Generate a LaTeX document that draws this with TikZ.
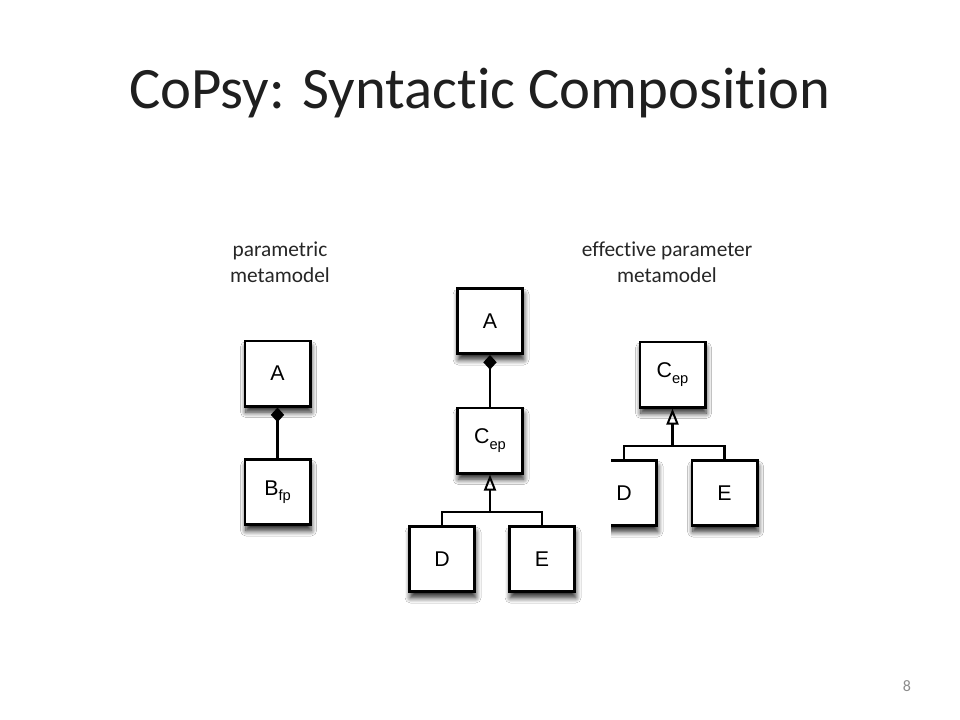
\documentclass[tikz,border=0pt]{standalone}
\usepackage{fontspec}
\setmainfont[Ligatures={NoCommon}]{Carlito}
\newfontfamily\boxfont{Liberation Sans}
\usetikzlibrary{arrows.meta,shadows.blur}
\tikzset{
  umlbox/.style={draw=black, line width=2pt, fill=white, minimum size=49pt, inner sep=0pt,
    font=\boxfont\fontsize{16}{18}\selectfont,
    blur shadow={shadow xshift=0.8pt, shadow yshift=-4.5pt, shadow blur radius=4pt, shadow opacity=85, shadow blur steps=8}},
  compo/.style={line width=1.6pt, {Diamond[length=11pt,width=10pt]}-},
  gener/.style={line width=1.6pt, -{Triangle[open,length=12pt,width=9pt,line width=1.5pt]}},
  tree/.style={line width=1.6pt},
  lbl/.style={align=center, text=black!85, font=\fontsize{16}{19.5}\selectfont},
}
\newcommand{\subtxt}[1]{\raisebox{-0.5ex}{\fontsize{11}{12}\selectfont #1}}
\begin{document}
\begin{tikzpicture}[x=0.75pt,y=-0.75pt]
\useasboundingbox (0,0) rectangle (960,720);
\fill[white] (0,0) rectangle (960,720);
% title
\node[anchor=base, font=\fontsize{44}{52}\selectfont, text=black!88] (title) at (480,109) {CoPsy: Syntactic Composition};
% labels
\node[lbl] (lblL) at (280,262) {parametric\\metamodel};
\node[lbl] (lblR) at (667,262) {effective parameter\\metamodel};
% page number
\node[anchor=base, font=\fontsize{12}{14}\selectfont, text=black!45] (pg) at (907,691) {8};

% right diagram
\node[umlbox] (rC) at (672.5,374.5) {C\subtxt{ep}};
\node[umlbox] (rD) at (624,493) {D};
\node[umlbox] (rE) at (724.5,493) {E};
\coordinate (rJ) at (672.5,446);
\draw[gener] (rJ) -- (rC.south);
\draw[tree] (rD.north) |- (rJ) -| (rE.north);
% white background of the middle picture covering the right one
\fill[white] (380,440) rectangle (611,620);

% left diagram
\node[umlbox] (lA) at (277.5,373.5) {A};
\node[umlbox] (lB) at (277.5,492) {B\subtxt{fp}};
\draw[compo] (lA.south) -- (lB.north);

% middle diagram
\node[umlbox] (mA) at (490,321) {A};
\node[umlbox] (mC) at (490,440.5) {C\subtxt{ep}};
\node[umlbox] (mD) at (442,559) {D};
\node[umlbox] (mE) at (542,559) {E};
\draw[compo] (mA.south) -- (mC.north);
\coordinate (mJ) at (490,512);
\draw[gener] (mJ) -- (mC.south);
\draw[tree] (mD.north) |- (mJ) -| (mE.north);
\end{tikzpicture}
\end{document}
